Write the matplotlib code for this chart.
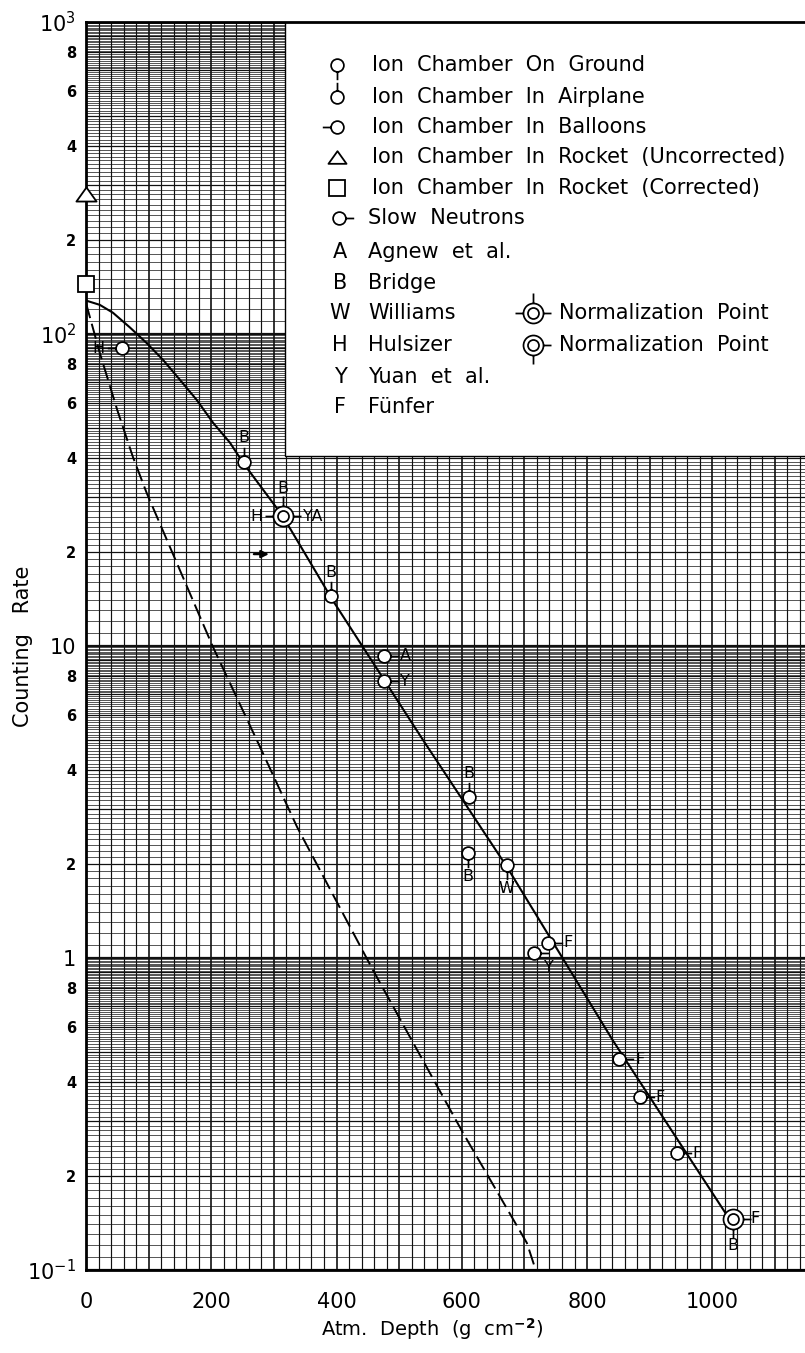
import numpy as np
import matplotlib
matplotlib.use('Agg')
import matplotlib.pyplot as plt
from matplotlib.path import Path
from matplotlib.patches import Rectangle
from matplotlib.ticker import NullLocator, NullFormatter

# ---------------- data ----------------
solid_x = [0, 22, 43, 70, 97, 123, 150, 177, 203, 230, 251, 314, 394, 538, 672, 841, 1025]
solid_y = [128, 124, 117, 105, 93.5, 82.6, 71.3, 61.4, 51.9, 44.8, 38.6, 26.1, 14.0,
           5.0, 1.96, 0.545, 0.148]

dashed_x = [0, 22, 50, 75, 97, 203, 278, 337, 458, 602, 704, 718]
dashed_y = [125.6, 87, 57, 40.3, 30.9, 9.9, 4.74, 2.63, 0.916, 0.275, 0.122, 0.1]

ground_x = [610, 672]
ground_y = [2.17, 1.99]
ground_lbl = ['B', 'W']

airplane_x = [252, 391, 611]
airplane_y = [39, 14.5, 3.28]
airplane_lbl = ['B', 'B', 'B']

balloon_x = [57]
balloon_y = [90]
balloon_lbl = ['H']

rocket_unc_x = [0]
rocket_unc_y = [280]
rocket_cor_x = [0]
rocket_cor_y = [145]

neutron_x = [476, 476, 737, 715, 851, 884, 943]
neutron_y = [9.3, 7.7, 1.12, 1.04, 0.474, 0.358, 0.237]
neutron_lbl = ['A', 'Y', 'F', 'Y', 'F', 'F', 'F']

norm1_x = [314]
norm1_y = [26.1]
norm2_x = [1033]
norm2_y = [0.146]

arrow_x = [268, 292]
arrow_y = [19.7, 19.7]

xticks = [0, 200, 400, 600, 800, 1000]
yticks = [0.1, 0.2, 0.4, 0.6, 0.8, 1, 2, 4, 6, 8, 10, 20, 40, 60, 80,
          100, 200, 400, 600, 800, 1000]
ytick_labels = [r'$10^{-1}$', '2', '4', '6', '8', '1', '2', '4', '6', '8', '10',
                '2', '4', '6', '8', r'$10^{2}$', '2', '4', '6', '8', r'$10^{3}$']

legend_rows = ['Ion  Chamber  On  Ground', 'Ion  Chamber  In  Airplane',
               'Ion  Chamber  In  Balloons', 'Ion  Chamber  In  Rocket  (Uncorrected)',
               'Ion  Chamber  In  Rocket  (Corrected)', 'Slow  Neutrons',
               'Agnew  et  al.', 'Bridge', 'Williams', 'Hulsizer', 'Yuan  et  al.', 'F\u00fcnfer']
legend_letters = ['A', 'B', 'W', 'H', 'Y', 'F']

# ---------------- figure ----------------
W, H = 805, 1353
fig = plt.figure(figsize=(W / 100, H / 100), dpi=100)
L, R, T, B = 86, 805, 22, 1270
ax = fig.add_axes([L / W, 1 - B / H, (R - L) / W, (B - T) / H])
ax.set_yscale('log')
XMAX = 1148
ax.set_xlim(0, XMAX)
ax.set_ylim(0.1, 1000)

# graph-paper grid
hy, hw = [], []
for d in [0.1, 1, 10, 100]:
    for k in range(0, 90):
        v = d * (1 + 0.1 * k)
        hy.append(v)
        hw.append(1.6 if k == 0 else (0.9 if k % 10 == 0 else 0.5))
hy = np.array(hy); hw = np.array(hw)
ax.hlines(hy, 0, XMAX, colors='#111111', linewidths=hw, zorder=0.5)
vx = np.arange(0, XMAX, 20)
ax.vlines(vx, 0.1, 1000, colors='#111111',
          linewidths=[1.2 if v % 100 == 0 else 0.85 for v in vx], zorder=0.6)

# white legend panel
ax.add_patch(Rectangle(((285 - L) / (R - L), (B - 456) / (B - T)),
                       1.0, 1.0, transform=ax.transAxes, facecolor='white',
                       edgecolor='black', lw=1.0, zorder=2))

# curves
ax.plot(solid_x, solid_y, color='black', lw=1.5, zorder=3)
ax.plot(dashed_x, dashed_y, color='black', lw=1.4, ls=(0, (8, 3)), zorder=3)


# ---- custom markers ----
def make_marker(stems, inner=None):
    paths = [Path.circle((0, 0), 1.0)]
    if inner:
        paths.append(Path.circle((0, 0), inner))
    for dx, dy, ln in stems:
        paths.append(Path([(dx * 1.0, dy * 1.0), (dx * ln, dy * ln)],
                          [Path.MOVETO, Path.LINETO]))
    p = Path.make_compound_path(*paths)
    return p, float(np.max(np.abs(p.vertices)))


R_small = 4.6    # circle radius in points
R_big = 7.2
m_ground = make_marker([(0, -1, 2.3)])
m_air = make_marker([(0, 1, 2.3)])
m_balloon = make_marker([(-1, 0, 2.3)])
m_neutron = make_marker([(1, 0, 2.3)])
m_norm1 = make_marker([(-1, 0, 1.8), (1, 0, 1.8), (0, 1, 2.0)], inner=0.55)
m_norm2 = make_marker([(1, 0, 1.8), (0, -1, 1.9)], inner=0.55)
tri = Path([(-1, -0.7), (1, -0.7), (0, 0.7), (-1, -0.7)],
           [Path.MOVETO, Path.LINETO, Path.LINETO, Path.CLOSEPOLY])


def pmark(x, y, mk, rad, **kw):
    path, E = mk
    ax.plot(x, y, ls='none', marker=path, ms=2 * E * rad, mfc='white',
            mec='black', mew=1.25, zorder=5, clip_on=False, **kw)


pmark(ground_x, ground_y, m_ground, R_small)
pmark(airplane_x, airplane_y, m_air, R_small)
pmark(balloon_x, balloon_y, m_balloon, R_small)
pmark(neutron_x, neutron_y, m_neutron, R_small)
pmark(norm1_x, norm1_y, m_norm1, R_big)
pmark(norm2_x, norm2_y, m_norm2, R_big)
ax.plot(rocket_unc_x, rocket_unc_y, ls='none', marker=tri, ms=14.5, mfc='white',
        mec='black', mew=1.3, zorder=5, clip_on=False)
ax.plot(rocket_cor_x, rocket_cor_y, ls='none', marker='s', ms=12, mfc='white',
        mec='black', mew=1.3, zorder=5, clip_on=False)

lab_kw = dict(textcoords='offset points', ha='center', va='center',
              fontsize=11.5, zorder=6)
for x, y, s in zip(ground_x, ground_y, ground_lbl):
    ax.annotate(s, (x, y), xytext=(0, -17), **lab_kw)
for x, y, s in zip(airplane_x, airplane_y, airplane_lbl):
    ax.annotate(s, (x, y), xytext=(0, 17), **lab_kw)
for x, y, s in zip(balloon_x, balloon_y, balloon_lbl):
    ax.annotate(s, (x, y), xytext=(-17, 0), **lab_kw)
for i, (x, y, s) in enumerate(zip(neutron_x, neutron_y, neutron_lbl)):
    off = (11, -11) if i == 3 else (15, 0)
    ax.annotate(s, (x, y), xytext=off, **lab_kw)
ax.annotate('H', (norm1_x[0], norm1_y[0]), xytext=(-19, 0), **lab_kw)
ax.annotate('YA', (norm1_x[0], norm1_y[0]), xytext=(22, 0), **lab_kw)
ax.annotate('B', (norm1_x[0], norm1_y[0]), xytext=(0, 20), **lab_kw)
ax.annotate('F', (norm2_x[0], norm2_y[0]), xytext=(16, 0), **lab_kw)
ax.annotate('B', (norm2_x[0], norm2_y[0]), xytext=(0, -19), **lab_kw)

ax.annotate('', xy=(arrow_x[1], arrow_y[1]), xytext=(arrow_x[0], arrow_y[0]),
            arrowprops=dict(arrowstyle='-|>', lw=1.6, color='black',
                            mutation_scale=11, shrinkA=0, shrinkB=0), zorder=5)

# ---------------- legend (manual) ----------------
def ax_xy(px, py):
    return (px - L) / (R - L), (B - py) / (B - T)


LFS = 15
row_py = [65, 97, 127, 157, 188, 218, 252, 283, 313, 345, 377, 407]
sym_px = 337
for i, txt in enumerate(legend_rows):
    tx = 372 if i < 5 else 368
    ax.text(*ax_xy(tx, row_py[i]), txt, transform=ax.transAxes, fontsize=LFS,
            ha='left', va='center', zorder=6)

leg_marks = [m_ground, m_air, m_balloon]
for i, mk in enumerate(leg_marks):
    path, E = mk
    ax.plot(*ax_xy(sym_px, row_py[i]), transform=ax.transAxes, marker=path,
            ms=2 * E * R_small, mfc='white', mec='black', mew=1.25, zorder=6)
ax.plot(*ax_xy(sym_px, row_py[3]), transform=ax.transAxes, marker=tri, ms=13,
        mfc='white', mec='black', mew=1.3, zorder=6)
ax.plot(*ax_xy(sym_px, row_py[4]), transform=ax.transAxes, marker='s', ms=11.5,
        mfc='white', mec='black', mew=1.3, zorder=6)
path, E = m_neutron
ax.plot(*ax_xy(sym_px + 2, row_py[5]), transform=ax.transAxes, marker=path,
        ms=2 * E * R_small, mfc='white', mec='black', mew=1.25, zorder=6)
for j, s in enumerate(legend_letters):
    ax.text(*ax_xy(340, row_py[6 + j]), s, transform=ax.transAxes, fontsize=LFS,
            ha='center', va='center', zorder=6)
for j, mk in enumerate([m_norm1, m_norm2]):
    path, E = mk
    ax.plot(*ax_xy(533, row_py[8 + j]), transform=ax.transAxes, marker=path,
            ms=2 * E * R_big, mfc='white', mec='black', mew=1.25, zorder=6)
    ax.text(*ax_xy(559, row_py[8 + j]), 'Normalization  Point', transform=ax.transAxes,
            fontsize=LFS, ha='left', va='center', zorder=6)

# ---------------- axes styling ----------------
for side in ['left', 'bottom', 'top']:
    ax.spines[side].set_linewidth(2.0)
ax.spines['right'].set_visible(False)

ax.set_xticks(xticks)
ax.set_xticklabels([str(v) for v in xticks], fontsize=15)
ax.yaxis.set_minor_locator(NullLocator())
ax.yaxis.set_minor_formatter(NullFormatter())
ax.set_yticks(yticks)
ax.set_yticklabels(ytick_labels)
for lbl in ax.get_yticklabels():
    t = lbl.get_text()
    if t.startswith('$') or t in ('1', '10'):
        lbl.set_fontsize(15)
    else:
        lbl.set_fontsize(10.5)
        lbl.set_fontweight('bold')
ax.tick_params(axis='x', length=0, pad=16)
ax.tick_params(axis='y', length=0, pad=7)

ax.set_xlabel(r'Atm.  Depth  (g  cm$^{\mathbf{-2}}$)', fontsize=14)
ax.xaxis.set_label_coords((432 - L) / (R - L), (B - 1316) / (B - T))
ax.set_ylabel('Counting   Rate', fontsize=15)
ax.yaxis.set_label_coords((33 - L) / (R - L), 0.5)

fig.savefig('out.png', dpi=100)
